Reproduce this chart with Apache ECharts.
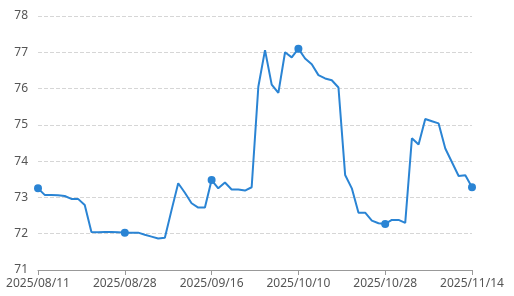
<!DOCTYPE html>
<html><head><meta charset="utf-8">
<script src="https://cdn.jsdelivr.net/npm/echarts@6/dist/echarts.min.js"></script>
<style>html,body{margin:0;padding:0;background:#fff}#c{width:514px;height:296px}</style>
</head><body><div id="c"></div>
<script>
const dates = [
 "2025/08/11","2025/08/12","2025/08/13","2025/08/14","2025/08/15","2025/08/18","2025/08/19","2025/08/20","2025/08/21","2025/08/22",
 "2025/08/25","2025/08/26","2025/08/27","2025/08/28","2025/08/29","2025/09/01","2025/09/02","2025/09/03","2025/09/04","2025/09/05",
 "2025/09/08","2025/09/09","2025/09/10","2025/09/11","2025/09/12","2025/09/15","2025/09/16","2025/09/17","2025/09/18","2025/09/19",
 "2025/09/22","2025/09/23","2025/09/24","2025/09/25","2025/09/26","2025/09/28","2025/09/29","2025/09/30","2025/10/09","2025/10/10",
 "2025/10/11","2025/10/13","2025/10/14","2025/10/15","2025/10/16","2025/10/17","2025/10/20","2025/10/21","2025/10/22","2025/10/23",
 "2025/10/24","2025/10/27","2025/10/28","2025/10/29","2025/10/30","2025/10/31","2025/11/03","2025/11/04","2025/11/05","2025/11/06",
 "2025/11/07","2025/11/10","2025/11/11","2025/11/12","2025/11/13","2025/11/14"
];
const values = [
 73.25,73.07,73.07,73.06,73.04,72.96,72.96,72.79,72.05,72.04,
 72.05,72.05,72.04,72.03,72.03,72.03,71.97,71.92,71.87,71.89,
 72.65,73.39,73.13,72.84,72.72,72.72,73.48,73.25,73.41,73.22,
 73.22,73.19,73.28,76.05,77.06,76.11,75.88,77.00,76.86,77.10,
 76.83,76.67,76.37,76.28,76.23,76.03,73.62,73.25,72.58,72.58,
 72.36,72.29,72.27,72.38,72.38,72.30,74.63,74.46,75.16,75.10,
 75.04,74.35,73.97,73.59,73.61,73.28
];
const yTicks = {min: 71, max: 78, interval: 1};
const chart = echarts.init(document.getElementById('c'));
chart.setOption({
  animation: false,
  textStyle: {fontFamily: 'Noto Sans'},
  grid: {left: 38, right: 42, top: 16, bottom: 26, containLabel: false},
  xAxis: {
    type: 'category', data: dates, boundaryGap: false,
    axisLine: {lineStyle: {color: '#999'}},
    axisTick: {interval: 12, lineStyle: {color: '#999'}},
    axisLabel: {interval: 12, color: '#555', fontSize: 12, margin: 8}
  },
  yAxis: {
    type: 'value', min: yTicks.min, max: yTicks.max, interval: yTicks.interval,
    axisLabel: {color: '#555', fontSize: 12, margin: 10},
    splitLine: {lineStyle: {type: 'dashed', color: '#d6d6d6'}}
  },
  series: [{
    type: 'line', data: values,
    symbol: 'circle', symbolSize: 8,
    lineStyle: {color: '#2a84d4', width: 2},
    itemStyle: {color: '#2a84d4'}
  }]
});
</script></body></html>
